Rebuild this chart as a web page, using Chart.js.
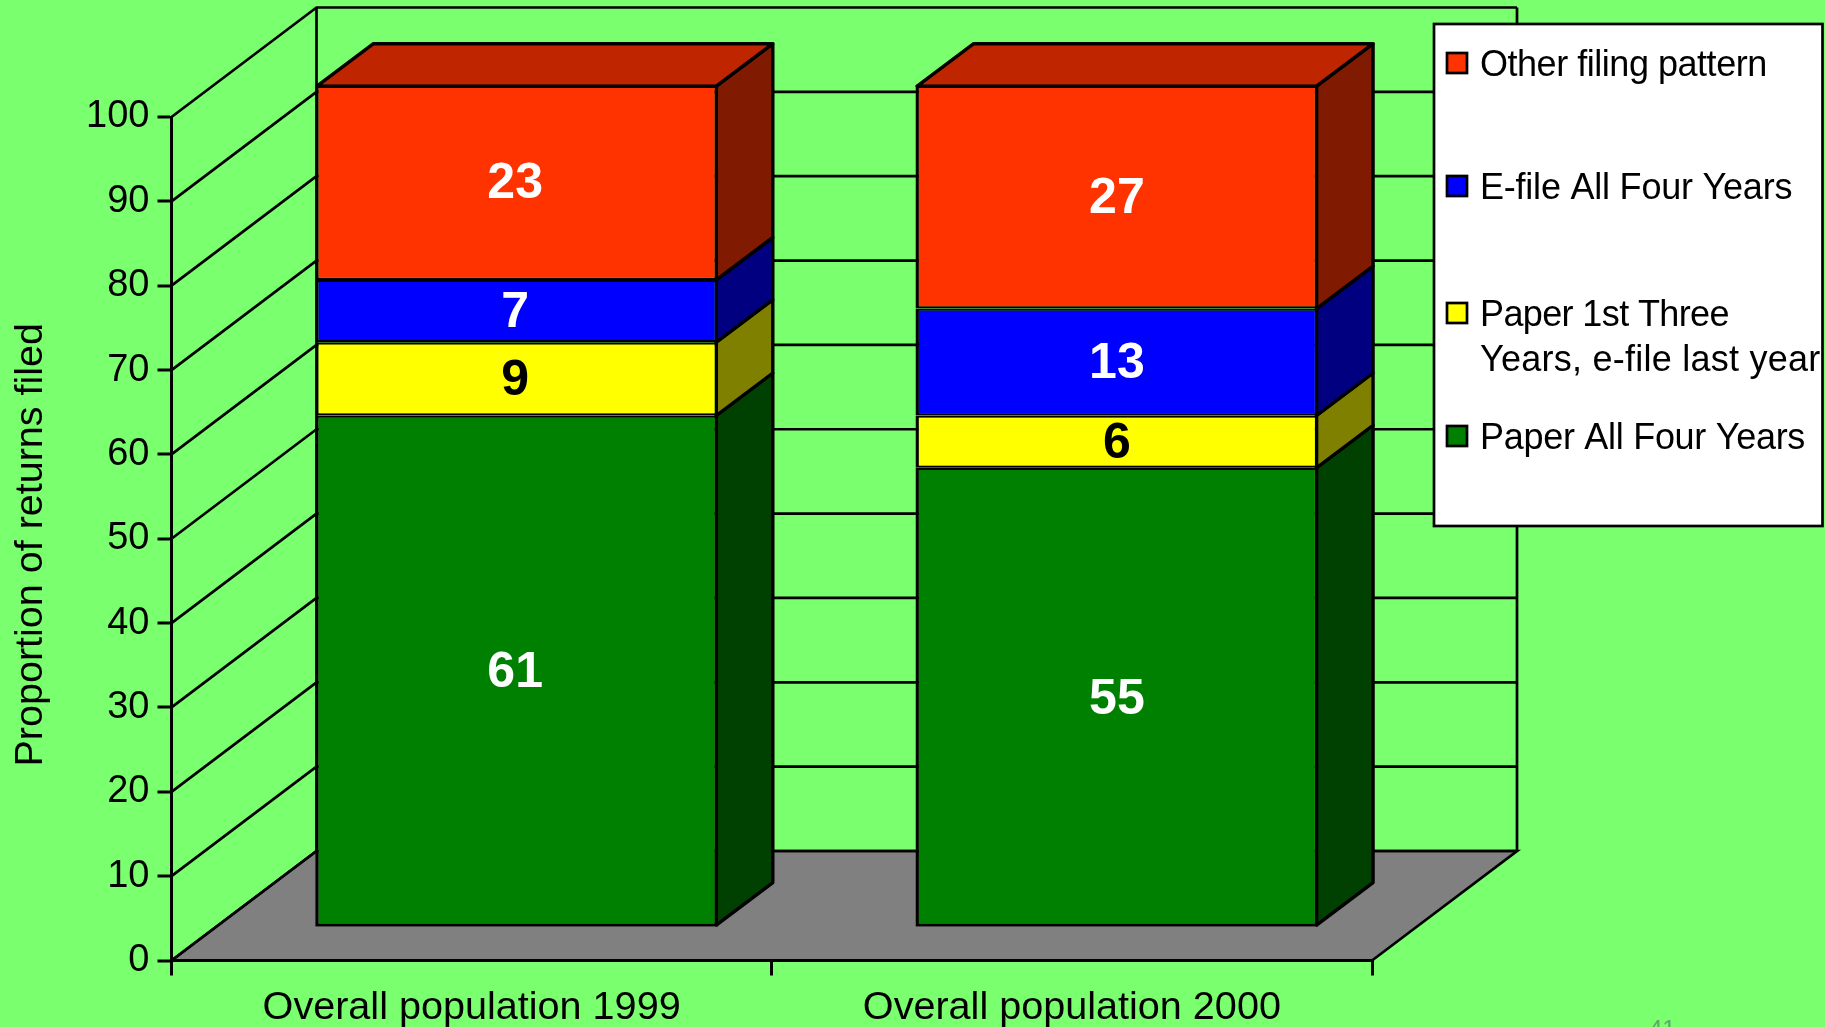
<!DOCTYPE html>
<html><head><meta charset="utf-8">
<style>html,body{margin:0;padding:0;background:#7AFF6E;overflow:hidden}canvas{display:block}</style>
<script src="https://cdn.jsdelivr.net/npm/chart.js@4"></script>
</head><body><canvas id="c" width="1825" height="1027"></canvas>
<script>
// ---- data ----
const categories = ["Overall population 1999", "Overall population 2000"];
const paperAllFour = [60.7, 54.5];
const paperThenEfile = [8.7, 6.2];
const efileAllFour = [7.4, 12.7];
const otherPattern = [23.2, 26.6];
const seriesNames = ["Paper All Four Years", "Paper 1st Three Years, e-file last year", "E-file All Four Years", "Other filing pattern"];
const yTitle = "Proportion of returns filed";
const slideNumber = "41";

// ---- styles ----
const BG = "#7AFF6E", LW = 3.4, AXIS_LW = 3, WALL_LW = 2.7, FONT = '"Liberation Sans", Arial, sans-serif';
const fronts = ["#008000", "#FFFF00", "#0000FF", "#FF3300"];
const sides = ["#004000", "#808000", "#000080", "#801A00"];
const topFace = "#BF2600";
const labelColors = ["#FFFFFF", "#000000", "#FFFFFF", "#FFFFFF"];
const labelNudgeX = [-1.5, 0];
const series = [paperAllFour, paperThenEfile, efileAllFour, otherPattern];

// wall depth and bar placement in the oblique projection
const WALL = {dx: 145, dy: -109.5};
const BAR = {dx: 45, dy: -33.7, k: 0.9986, depthX: 56.5, depthY: -42.5};
const AREA = {left: 171.5, right: 1372, top: 117, bottom: 960.5};

function barTransform(chart) {
  const b = chart.chartArea.bottom;
  return {
    x: x => x + BAR.dx,
    y: y => b + BAR.dy + (y - b) * BAR.k
  };
}
function poly(ctx, pts, fill) {
  ctx.beginPath();
  pts.forEach((p, i) => i ? ctx.lineTo(p[0], p[1]) : ctx.moveTo(p[0], p[1]));
  ctx.closePath();
  if (fill) { ctx.fillStyle = fill; ctx.fill(); }
  ctx.stroke();
}

const scene3d = {
  id: "scene3d",
  afterLayout(chart) {
    // nudge the native value-axis title to its place along the wall
    const s = chart.scales.y;
    if (!s._titleNudged) {
      const orig = s.drawTitle;
      s.drawTitle = function () {
        this.ctx.save();
        this.ctx.translate(0, 6);
        orig.call(this);
        this.ctx.restore();
      };
      s._titleNudged = true;
    }
  },
  beforeDraw(chart) {
    const {ctx, chartArea: a, scales: {y}} = chart;
    ctx.save();
    ctx.fillStyle = BG;
    ctx.fillRect(0, 0, chart.width, chart.height);
    ctx.strokeStyle = "#000";
    ctx.lineWidth = WALL_LW;
    ctx.lineJoin = "miter";
    // floor
    poly(ctx, [[a.left, a.bottom], [a.left + WALL.dx, a.bottom + WALL.dy],
               [a.right + WALL.dx, a.bottom + WALL.dy], [a.right, a.bottom]], "#808080");
    // walls and grid, one line per tick of the value axis
    y.ticks.forEach(t => {
      const py = y.getPixelForValue(t.value);
      ctx.beginPath();
      ctx.moveTo(a.left, py);
      ctx.lineTo(a.left + WALL.dx, py + WALL.dy);
      ctx.lineTo(a.right + WALL.dx, py + WALL.dy);
      ctx.stroke();
    });
    ctx.beginPath();
    ctx.moveTo(a.left + WALL.dx, a.top + WALL.dy);
    ctx.lineTo(a.left + WALL.dx, a.bottom + WALL.dy);
    ctx.moveTo(a.right + WALL.dx, a.top + WALL.dy);
    ctx.lineTo(a.right + WALL.dx, a.bottom + WALL.dy);
    ctx.stroke();
    ctx.restore();
  },
  beforeDatasetsDraw(chart) {
    const {ctx} = chart, T = barTransform(chart), h = LW / 2;
    ctx.save();
    ctx.strokeStyle = "#000";
    ctx.lineWidth = LW;
    ctx.lineJoin = "round";
    series.forEach((vals, i) => {
      chart.getDatasetMeta(i).data.forEach(el => {
        const xr = T.x(el.x + el.width / 2) - h, xl = T.x(el.x - el.width / 2) + h;
        const yt = T.y(el.y) + (i === series.length - 1 ? h : 0);
        const yb = T.y(el.base) - (i === 0 ? h : 0);
        poly(ctx, [[xr, yb], [xr + BAR.depthX, yb + BAR.depthY], [xr + BAR.depthX, yt + BAR.depthY], [xr, yt]], sides[i]);
        if (i === series.length - 1) {
          poly(ctx, [[xl, yt], [xl + BAR.depthX, yt + BAR.depthY], [xr + BAR.depthX, yt + BAR.depthY], [xr, yt]], topFace);
        }
      });
    });
    ctx.restore();
  },
  beforeDatasetDraw(chart) {
    const {ctx, chartArea: a} = chart;
    ctx.save();
    ctx.translate(BAR.dx, a.bottom + BAR.dy);
    ctx.scale(1, BAR.k);
    ctx.translate(0, -a.bottom);
  },
  afterDatasetDraw(chart) { chart.ctx.restore(); },
  afterDatasetsDraw(chart) {
    const {ctx} = chart, T = barTransform(chart);
    ctx.save();
    ctx.font = "bold 50px " + FONT;
    ctx.textAlign = "center";
    ctx.textBaseline = "middle";
    series.forEach((vals, i) => {
      chart.getDatasetMeta(i).data.forEach((el, j) => {
        ctx.fillStyle = labelColors[i];
        ctx.fillText(String(Math.round(vals[j])), T.x(el.x) + labelNudgeX[j], T.y((el.y + el.base) / 2) + 2.5);
      });
    });
    ctx.restore();
  },
  afterDraw(chart) {
    const {ctx} = chart;
    ctx.save();
    // legend
    ctx.strokeStyle = "#000";
    ctx.lineWidth = 2.7;
    ctx.fillStyle = "#fff";
    ctx.fillRect(1434, 24, 388.5, 502);
    ctx.strokeRect(1434, 24, 388.5, 502);
    const rows = [
      {i: 3, lines: ["Other filing pattern"], track: [-0.47], box: 52, base: [76]},
      {i: 2, lines: ["E-file All Four Years"], track: [-0.22], box: 175, base: [199]},
      {i: 1, lines: ["Paper 1st Three", "Years, e-file last year"], track: [-0.62, 0.25], box: 302, base: [326, 371]},
      {i: 0, lines: ["Paper All Four Years"], track: [-0.29], box: 425, base: [449]}
    ];
    rows.forEach(r => {
      ctx.fillStyle = fronts[r.i];
      ctx.fillRect(1447, r.box + 1, 20, 20);
      ctx.strokeRect(1447, r.box + 1, 20, 20);
      ctx.fillStyle = "#000";
      ctx.font = "36px " + FONT;
      ctx.textAlign = "left";
      ctx.textBaseline = "alphabetic";
      r.lines.forEach((l, k) => {
        ctx.letterSpacing = r.track[k] + "px";
        ctx.fillText(l, 1480, r.base[k]);
      });
      ctx.letterSpacing = "0px";
    });
    // slide number, cut by the lower edge
    ctx.fillStyle = "#5FA868";
    ctx.font = "24px " + FONT;
    ctx.textAlign = "left";
    ctx.fillText(slideNumber, 1649, 1037);
    ctx.restore();
  }
};

function edges(i) {
  return {
    top: i === series.length - 1 ? LW : LW * 0.65,
    bottom: i === 0 ? LW : LW * 0.65,
    left: LW,
    right: LW
  };
}

new Chart(document.getElementById("c"), {
  type: "bar",
  data: {
    labels: categories,
    datasets: series.map((v, i) => ({
      label: seriesNames[i],
      data: v,
      backgroundColor: fronts[i],
      borderColor: "#000",
      borderWidth: edges(i),
      borderSkipped: false,
      categoryPercentage: 1,
      barPercentage: 0.671
    }))
  },
  options: {
    responsive: false,
    animation: false,
    devicePixelRatio: 1,
    layout: {padding: {left: 0, top: AREA.top, right: 1825 - AREA.right, bottom: 0}},
    plugins: {legend: {display: false}, tooltip: {enabled: false}, title: {display: false}},
    scales: {
      x: {
        stacked: true,
        afterFit(s) { s.height = 1027 - AREA.bottom; },
        border: {display: true, color: "#000", width: AXIS_LW},
        grid: {offset: true, drawOnChartArea: false, drawTicks: true, tickLength: 15, tickColor: "#000", tickWidth: AXIS_LW, color: "#000", lineWidth: AXIS_LW},
        ticks: {color: "#000", font: {family: FONT, size: 39.6}, padding: 9, maxRotation: 0, autoSkip: false}
      },
      y: {
        stacked: true,
        min: 0, max: 100,
        afterFit(s) { s.width = AREA.left; },
        border: {display: true, color: "#000", width: AXIS_LW},
        // grid lineWidth 0: the walls are drawn by the plugin, and the bars start exactly at the zero line
        grid: {drawOnChartArea: false, drawTicks: true, tickLength: 14, tickColor: "#000", tickWidth: AXIS_LW, color: "#000", lineWidth: 0},
        ticks: {stepSize: 10, color: "#000", font: {family: FONT, size: 38}, padding: 8, autoSkip: false},
        title: {display: true, text: yTitle, color: "#000", font: {family: FONT, size: 39.5, weight: "normal"}, padding: {top: 7, bottom: 0}}
      }
    }
  },
  plugins: [scene3d]
});
</script></body></html>
